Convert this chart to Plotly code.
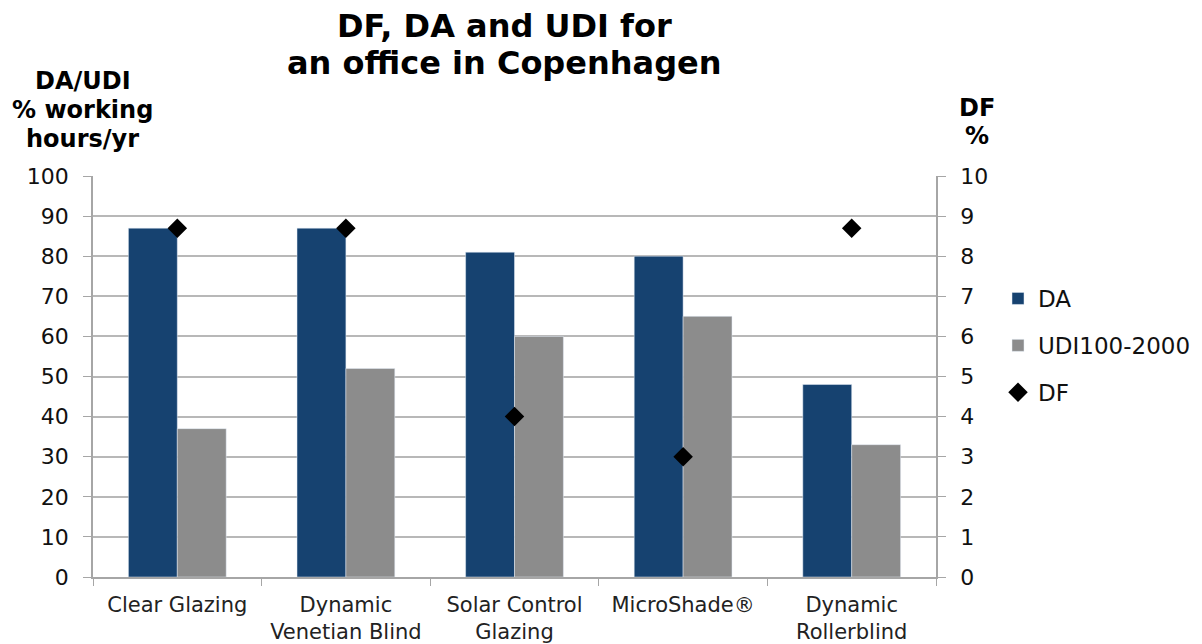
import plotly.graph_objects as go

categories = ["Clear Glazing", "Dynamic<br>Venetian Blind", "Solar Control<br>Glazing", "MicroShade®", "Dynamic<br>Rollerblind"]
da_values = [87, 87, 81, 80, 48]
udi_values = [37, 52, 60, 65, 33]
df_values = [8.7, 8.7, 4.0, 3.0, 8.7]
left_ticks = list(range(0, 101, 10))
right_ticks = list(range(0, 11, 1))
title_lines = ["DF, DA and UDI for", "an office in Copenhagen"]
left_title_lines = ["DA/UDI", "% working", "hours/yr"]
right_title_lines = ["DF", "%"]

FONT = "DejaVu Sans"
AXIS_GRAY = "#A6A6A6"

fig = go.Figure()
fig.add_trace(go.Bar(x=categories, y=da_values, name="DA", marker_color="#164270",
                     legendgroup="a"))
fig.add_trace(go.Bar(x=categories, y=udi_values, name="UDI100-2000", marker_color="#8C8C8C",
                     legendgroup="b"))
fig.add_trace(go.Scatter(x=categories, y=df_values, name="DF", mode="markers", yaxis="y2",
                         marker=dict(symbol="diamond", size=15, color="black"),
                         legendgroup="c"))

# page has an 8px body margin; figure coordinates = page coordinates - 8
W, H = 1186, 636
L, T = 85, 168
RIGHT, BOTTOM = 928, 569
R, B = W - RIGHT, H - BOTTOM
pw, ph = RIGHT - L, BOTTOM - T


def px(x):
    return (x - L) / pw


def py(y):
    return (BOTTOM - y) / ph


annotations = []
for line, yc in zip(title_lines, [18, 55]):
    annotations.append(dict(text="<b>" + line + "</b>", xref="paper", yref="paper",
                            x=px(496), y=py(yc), xanchor="center", yanchor="middle",
                            showarrow=False, font=dict(family=FONT, size=32, color="black")))
for line, yc in zip(left_title_lines, [73, 102, 131]):
    annotations.append(dict(text="<b>" + line + "</b>", xref="paper", yref="paper",
                            x=px(74.5), y=py(yc), xanchor="center", yanchor="middle",
                            showarrow=False, font=dict(family=FONT, size=24, color="black")))
for line, yc in zip(right_title_lines, [100, 128]):
    annotations.append(dict(text="<b>" + line + "</b>", xref="paper", yref="paper",
                            x=px(969), y=py(yc), xanchor="center", yanchor="middle",
                            showarrow=False, font=dict(family=FONT, size=24, color="black")))

fig.update_layout(
    width=W, height=H,
    margin=dict(l=L, r=R, t=T, b=B, autoexpand=False),
    paper_bgcolor="white", plot_bgcolor="white",
    font=dict(family=FONT, size=20, color="#1a1a1a"),
    barmode="group", bargap=0.42, bargroupgap=0,
    xaxis=dict(showline=True, linecolor=AXIS_GRAY, linewidth=1.5,
               ticks="outside", tickson="boundaries", ticklen=7, tickcolor=AXIS_GRAY,
               ticklabelstandoff=8,
               tickfont=dict(family=FONT, size=21, color="#222222"),
               showgrid=False),
    yaxis=dict(range=[0, 100], tickvals=left_ticks, showline=True, linecolor=AXIS_GRAY,
               linewidth=1.5, ticks="outside", ticklen=8, tickcolor=AXIS_GRAY,
               ticklabelstandoff=10,
               showgrid=True, gridcolor="#B8B8B8", gridwidth=1.5, zeroline=False,
               tickfont=dict(family=FONT, size=22, color="#111111")),
    yaxis2=dict(range=[0, 10], tickvals=right_ticks, overlaying="y", side="right",
                showline=True, linecolor=AXIS_GRAY, linewidth=1.5, ticks="outside",
                ticklen=8, tickcolor=AXIS_GRAY, ticklabelstandoff=10,
                showgrid=False, zeroline=False,
                tickfont=dict(family=FONT, size=22, color="#111111")),
    legend=dict(x=px(990), y=py(269), xanchor="left", yanchor="top",
                font=dict(family=FONT, size=23, color="#111111"),
                tracegroupgap=14, bgcolor="rgba(0,0,0,0)"),
    annotations=annotations,
)

fig.write_html("out.html")
